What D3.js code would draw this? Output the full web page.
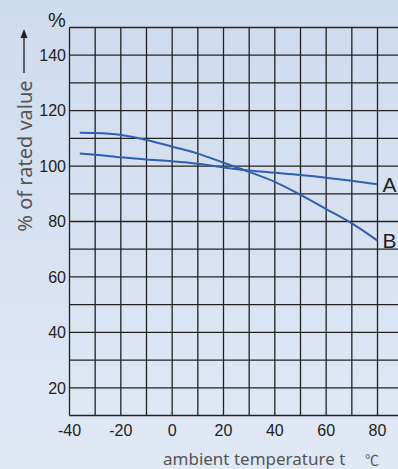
<!DOCTYPE html>
<html lang="en">
<head>
<meta charset="UTF-8">
<title>% of rated value vs ambient temperature</title>
<script src="https://d3js.org/d3.v7.min.js"></script>
<style>
    html, body { margin: 0; padding: 0; }
    body { width: 398px; height: 469px; overflow: hidden; }
    .tick-label { font-family: "Liberation Sans", Arial, sans-serif; font-size: 16px; fill: #222; }
    .title { font-family: "Noto Sans", sans-serif; font-size: 17px; fill: #555; }
    .curve-label { font-family: "Liberation Sans", Arial, sans-serif; font-size: 21px; fill: #222; }
</style>
</head>
<body>
<svg width="398" height="469"></svg>
<script>
    // data
    const temps = [-36, -30, -20, -10, 0, 10, 20, 30, 40, 50, 60, 70, 80];
    const seriesA = [104.5, 104.1, 103.2, 102.4, 101.7, 100.8, 99.5, 98.4, 97.6, 96.8, 95.8, 94.7, 93.4];
    const seriesB = [112.0, 111.9, 111.2, 109.4, 107.0, 104.5, 101.2, 97.9, 94.3, 89.6, 84.5, 79.3, 73.1];
    const xTickLabels = [-40, -20, 0, 20, 40, 60, 80];
    const yTickLabels = [20, 40, 60, 80, 100, 120, 140];
    const xGrid = d3.range(-40, 81, 10);
    const yGrid = d3.range(10, 151, 10);

    const W = 398, H = 469;
    const svg = d3.select("svg");

    // background gradient
    const grad = svg.append("defs").append("linearGradient")
        .attr("id", "bg").attr("x1", 0).attr("y1", 0).attr("x2", 0).attr("y2", 1);
    grad.append("stop").attr("offset", "0%").attr("stop-color", "#cfdbee");
    grad.append("stop").attr("offset", "100%").attr("stop-color", "#e0e8f4");
    svg.append("rect").attr("width", W).attr("height", H).attr("fill", "url(#bg)");

    const x = d3.scaleLinear().domain([-40, 80]).range([69.5, 377.5]);
    const y = d3.scaleLinear().domain([10, 150]).range([415.5, 27.5]);

    // grid
    const grid = svg.append("g").attr("stroke", "#222").attr("stroke-width", 1.3);
    grid.selectAll(".v").data(xGrid).enter().append("line")
        .attr("x1", d => x(d)).attr("x2", d => x(d))
        .attr("y1", y(150)).attr("y2", y(10));
    grid.selectAll(".h").data(yGrid).enter().append("line")
        .attr("x1", x(-40)).attr("x2", W)
        .attr("y1", d => y(d)).attr("y2", d => y(d));

    // curves
    const line = d3.line()
        .x(d => x(d[0]))
        .y(d => y(d[1]))
        .curve(d3.curveMonotoneX);

    [seriesA, seriesB].forEach(s => {
        svg.append("path")
            .datum(temps.map((t, i) => [t, s[i]]))
            .attr("d", line)
            .attr("fill", "none")
            .attr("stroke", "#2f5fb3")
            .attr("stroke-width", 2);
    });

    svg.append("text").attr("class", "curve-label")
        .attr("x", x(80) + 5).attr("y", y(seriesA[seriesA.length - 1]) + 8).text("A");
    svg.append("text").attr("class", "curve-label")
        .attr("x", x(80) + 5).attr("y", y(seriesB[seriesB.length - 1]) + 7).text("B");

    // tick labels
    svg.selectAll(".xl").data(xTickLabels).enter().append("text")
        .attr("class", "tick-label")
        .attr("x", d => x(d)).attr("y", 436)
        .attr("text-anchor", "middle")
        .text(d => d);
    svg.selectAll(".yl").data(yTickLabels).enter().append("text")
        .attr("class", "tick-label")
        .attr("x", 66).attr("y", d => y(d))
        .attr("dy", "0.36em")
        .attr("text-anchor", "end")
        .text(d => d);

    // unit on top
    svg.append("text").attr("class", "tick-label")
        .attr("x", 57).attr("y", 27)
        .attr("text-anchor", "middle")
        .style("font-size", "20px")
        .text("%");

    // y title with arrow
    svg.append("text").attr("class", "title")
        .attr("transform", "translate(32,156) rotate(-90)")
        .attr("text-anchor", "middle")
        .style("font-size", "20px")
        .text("% of rated value");
    svg.append("line")
        .attr("x1", 24).attr("x2", 24).attr("y1", 73).attr("y2", 36)
        .attr("stroke", "#222").attr("stroke-width", 1.3);
    svg.append("path")
        .attr("d", "M24,29 L20.5,38 L27.5,38 Z")
        .attr("fill", "#222");

    // x title
    svg.append("text").attr("class", "title")
        .attr("x", 163).attr("y", 465)
        .text("ambient temperature t");
    svg.append("text").attr("class", "title")
        .attr("x", 365).attr("y", 465)
        .style("font-family", "'Noto Sans CJK SC', sans-serif")
        .style("font-size", "14px")
        .text("℃");
</script>
</body>
</html>
